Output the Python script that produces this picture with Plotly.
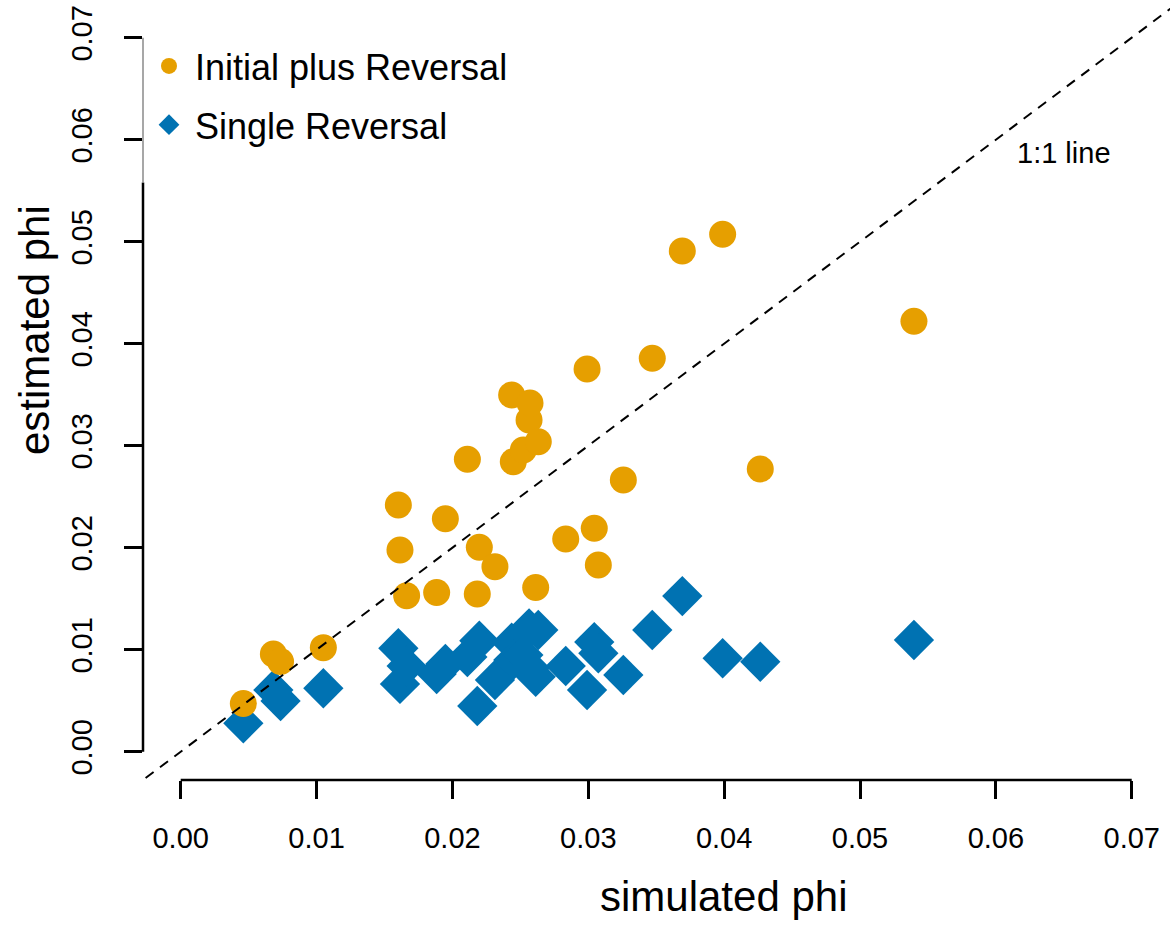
import plotly.graph_objects as go

# ---- data ----
simulated_phi = [0.00461, 0.00682, 0.00735, 0.01050, 0.01602, 0.01614, 0.01663, 0.01884,
                 0.01948, 0.02110, 0.02183, 0.02198, 0.02313, 0.02436, 0.02448, 0.02522,
                 0.02564, 0.02571, 0.02613, 0.02632, 0.02834, 0.02991, 0.03044, 0.03074,
                 0.03258, 0.03471, 0.03692, 0.03989, 0.04266, 0.05397]
est_initial_plus_reversal = [0.00473, 0.00958, 0.00884, 0.01020, 0.02419, 0.01977, 0.01529, 0.01561,
                             0.02284, 0.02867, 0.01546, 0.02004, 0.01814, 0.03497, 0.02843, 0.02958,
                             0.03252, 0.03419, 0.01610, 0.03039, 0.02085, 0.03752, 0.02190, 0.01830,
                             0.02664, 0.03857, 0.04909, 0.05073, 0.02772, 0.04220]
est_single_reversal = [0.00278, 0.00605, 0.00497, 0.00622, 0.01014, 0.00664, 0.00840, 0.00762,
                       0.00860, 0.00928, 0.00448, 0.01088, 0.00703, 0.01069, 0.00899, 0.00948,
                       0.01210, 0.00821, 0.00735, 0.01193, 0.00840, 0.00605, 0.01075, 0.00965,
                       0.00752, 0.01193, 0.01526, 0.00916, 0.00882, 0.01095]
tick_vals = [0.00, 0.01, 0.02, 0.03, 0.04, 0.05, 0.06, 0.07]
tick_text = ["0.00", "0.01", "0.02", "0.03", "0.04", "0.05", "0.06", "0.07"]
identity_line = [-0.01, 0.10]

ORANGE = "#E69F00"
BLUE = "#0072B2"
FONT = "Liberation Sans, Arial, Helvetica, sans-serif"

W, H = 1170, 925

def px(x):
    return x / W

def py(y):
    return 1 - y / H

fig = go.Figure()

fig.add_trace(go.Scatter(
    x=simulated_phi, y=est_single_reversal, mode="markers",
    name="Single Reversal", legendrank=2, legendgroup="b",
    marker=dict(symbol="diamond", size=31, color=BLUE, line=dict(width=0)),
    cliponaxis=False,
))
fig.add_trace(go.Scatter(
    x=simulated_phi, y=est_initial_plus_reversal, mode="markers",
    name="Initial plus Reversal", legendrank=1, legendgroup="a",
    marker=dict(symbol="circle", size=27, color=ORANGE, line=dict(width=0)),
    cliponaxis=False,
))
fig.add_trace(go.Scatter(
    x=identity_line, y=identity_line, mode="lines", showlegend=False,
    hoverinfo="skip", line=dict(color="black", width=2, dash="10px,8px"),
))

x_left = (143 - 180.7) / 13586
x_right = (1170 - 180.7) / 13586
y_bottom = (751.7 - 780) / 10200
y_top = (751.7 - 0) / 10200

axis_common = dict(
    tickvals=tick_vals, ticktext=tick_text, ticks="outside", ticklen=18,
    tickwidth=2.5, tickcolor="black", showgrid=False, zeroline=False,
    showline=False, tickfont=dict(family=FONT, size=29, color="black"),
)

fig.update_layout(
    width=W, height=H,
    margin=dict(l=0, r=0, t=0, b=0),
    paper_bgcolor="white", plot_bgcolor="white",
    xaxis=dict(domain=[px(143), 1.0], range=[x_left, x_right],
               ticklabelstandoff=14, **axis_common),
    yaxis=dict(domain=[py(780), 1.0], range=[y_bottom, y_top],
               tickangle=-90, ticklabelstandoff=20, **axis_common),
    showlegend=True,
    legend=dict(
        x=px(143), y=py(36), xanchor="left", yanchor="top",
        bgcolor="rgba(255,255,255,0)", borderwidth=0,
        font=dict(family=FONT, size=36, color="black"),
        itemwidth=42, tracegroupgap=9,
    ),
    font=dict(family=FONT, color="black"),
)

# axis lines (R style: only spanning the tick range)
fig.add_shape(type="line", xref="x", yref="y domain", x0=0, x1=0.07, y0=0, y1=0,
              line=dict(color="black", width=2.5))
fig.add_shape(type="line", xref="x domain", yref="y", x0=0, x1=0, y0=0, y1=0.0558,
              line=dict(color="black", width=2.5))
fig.add_shape(type="line", xref="x domain", yref="y", x0=0, x1=0, y0=0.0558, y1=0.07,
              line=dict(color="#8a8a8a", width=1.5))

# titles and labels
fig.add_annotation(text="simulated phi", xref="paper", yref="paper",
                   x=px(723), y=py(896), xanchor="center", yanchor="middle",
                   showarrow=False, font=dict(family=FONT, size=42, color="black"))
fig.add_annotation(text="estimated phi", xref="paper", yref="paper",
                   x=px(34), y=py(330), xanchor="center", yanchor="middle",
                   textangle=-90, showarrow=False,
                   font=dict(family=FONT, size=42, color="black"))
fig.add_annotation(text="1:1 line", xref="paper", yref="paper",
                   x=px(1064), y=py(153), xanchor="center", yanchor="middle",
                   showarrow=False, font=dict(family=FONT, size=29, color="black"))

fig.write_html("out.html")
